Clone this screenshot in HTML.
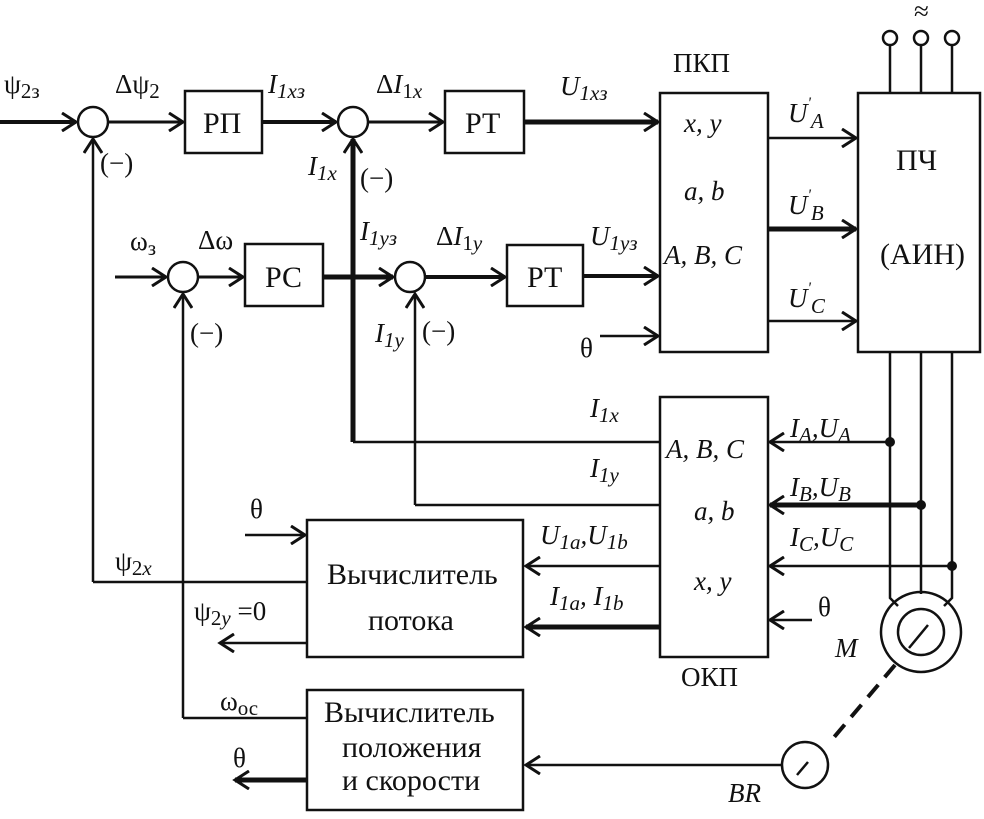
<!DOCTYPE html>
<html><head><meta charset="utf-8"><style>
html,body{margin:0;padding:0;background:#fff}
svg text{font-family:"Liberation Serif",serif;font-size:27px;fill:#111}
.i{font-style:italic}
.b{font-size:30px}
</style></head><body>
<svg width="984" height="814" viewBox="0 0 984 814" xmlns="http://www.w3.org/2000/svg">
<defs>
<marker id="a" markerWidth="20" markerHeight="20" refX="17" refY="10" orient="auto" markerUnits="userSpaceOnUse">
<path d="M3,1 L17,10 L3,19" fill="none" stroke="#111" stroke-width="3"/></marker>
</defs>
<g stroke="#111" fill="none" stroke-width="2.5">
<rect x="185" y="91" width="77" height="62"/>
<rect x="445" y="91" width="79" height="62"/>
<rect x="245" y="244" width="78" height="62"/>
<rect x="507" y="245" width="76" height="61"/>
<rect x="660" y="93" width="108" height="259"/>
<rect x="858" y="93" width="122" height="259"/>
<rect x="660" y="397" width="108" height="260"/>
<rect x="307" y="520" width="216" height="137"/>
<rect x="307" y="690" width="216" height="120"/>
<circle cx="93" cy="122" r="15"/><circle cx="353" cy="122" r="15"/>
<circle cx="183" cy="277" r="15"/><circle cx="410" cy="277" r="15"/>
<line x1="0" y1="122" x2="76" y2="122" stroke-width="4" marker-end="url(#a)"/>
<line x1="108" y1="122" x2="183" y2="122" stroke-width="3" marker-end="url(#a)"/>
<line x1="262" y1="122" x2="336" y2="122" stroke-width="4" marker-end="url(#a)"/>
<line x1="368" y1="122" x2="443" y2="122" stroke-width="3" marker-end="url(#a)"/>
<line x1="524" y1="122" x2="658" y2="122" stroke-width="5" marker-end="url(#a)"/>
<line x1="115" y1="277" x2="166" y2="277" stroke-width="3" marker-end="url(#a)"/>
<line x1="198" y1="277" x2="243" y2="277" stroke-width="3" marker-end="url(#a)"/>
<line x1="323" y1="277" x2="393" y2="277" stroke-width="5" marker-end="url(#a)"/>
<line x1="425" y1="277" x2="505" y2="277" stroke-width="4" marker-end="url(#a)"/>
<line x1="583" y1="276" x2="658" y2="276" stroke-width="4" marker-end="url(#a)"/>
<line x1="600" y1="336" x2="658" y2="336" stroke-width="2.5" marker-end="url(#a)"/>
<line x1="768" y1="138" x2="856" y2="138" marker-end="url(#a)"/>
<line x1="768" y1="229" x2="856" y2="229" stroke-width="5" marker-end="url(#a)"/>
<line x1="768" y1="321" x2="856" y2="321" marker-end="url(#a)"/>
<line x1="890" y1="45" x2="890" y2="93"/><line x1="921" y1="45" x2="921" y2="93"/><line x1="952" y1="45" x2="952" y2="93"/>
<circle cx="890" cy="38" r="7"/><circle cx="921" cy="38" r="7"/><circle cx="952" cy="38" r="7"/>
<path d="M890,352 V598 L898,606"/><path d="M921,352 V594"/><path d="M952,352 V598 L944,606"/>
<circle cx="921" cy="632" r="40"/><circle cx="921" cy="632" r="23"/>
<line x1="909" y1="648" x2="928" y2="625"/>
<line x1="895" y1="665" x2="830" y2="742" stroke-width="4" stroke-dasharray="16,10"/>
<circle cx="805" cy="765" r="23"/>
<line x1="808" y1="762" x2="797" y2="775"/>
<line x1="782" y1="765" x2="526" y2="765" marker-end="url(#a)"/>
<line x1="890" y1="442" x2="770" y2="442" marker-end="url(#a)"/>
<line x1="921" y1="505" x2="770" y2="505" stroke-width="5" marker-end="url(#a)"/>
<line x1="952" y1="566" x2="770" y2="566" marker-end="url(#a)"/>
<line x1="812" y1="620" x2="770" y2="620" marker-end="url(#a)"/>
<line x1="660" y1="566" x2="526" y2="566" marker-end="url(#a)"/>
<line x1="660" y1="627" x2="526" y2="627" stroke-width="5" marker-end="url(#a)"/>
<path d="M353,442 V139" stroke-width="5" marker-end="url(#a)"/>
<line x1="353" y1="442" x2="660" y2="442"/>
<path d="M415,505 V294" marker-end="url(#a)"/>
<line x1="415" y1="505" x2="660" y2="505"/>
<path d="M93,582 V139" marker-end="url(#a)"/>
<line x1="93" y1="582" x2="307" y2="582"/>
<path d="M183,718 V294" marker-end="url(#a)"/>
<line x1="183" y1="718" x2="307" y2="718"/>
<line x1="245" y1="535" x2="305" y2="535" marker-end="url(#a)"/>
<line x1="307" y1="643" x2="220" y2="643" marker-end="url(#a)"/>
<line x1="307" y1="780" x2="235" y2="780" stroke-width="5" marker-end="url(#a)"/>
</g>
<g fill="#111">
<circle cx="890" cy="442" r="5"/><circle cx="921" cy="505" r="5"/><circle cx="952" cy="566" r="5"/>
</g>
<text x="4" y="93">ψ<tspan font-size="21" dy="5">2з</tspan></text>
<text x="115" y="93">Δψ<tspan font-size="21" dy="5">2</tspan></text>
<text x="203" y="133" class="b">РП</text>
<text x="268" y="93" class="i">I<tspan font-size="21" dy="5">1</tspan><tspan font-size="21">xз</tspan></text>
<text x="376" y="93">Δ<tspan class="i">I</tspan><tspan font-size="21" dy="5">1</tspan><tspan font-size="21" class="i">x</tspan></text>
<text x="465" y="133" class="b">РТ</text>
<text x="560" y="95" class="i">U<tspan font-size="21" dy="5">1</tspan><tspan font-size="21">xз</tspan></text>
<text x="673" y="72">ПКП</text>
<text x="100" y="172">(−)</text>
<text x="308" y="175" class="i">I<tspan font-size="21" dy="5">1</tspan><tspan font-size="21">x</tspan></text>
<text x="360" y="187">(−)</text>
<text x="360" y="240" class="i">I<tspan font-size="21" dy="5">1</tspan><tspan font-size="21">yз</tspan></text>
<text x="436" y="245">Δ<tspan class="i">I</tspan><tspan font-size="21" dy="5">1</tspan><tspan font-size="21" class="i">y</tspan></text>
<text x="590" y="245" class="i">U<tspan font-size="21" dy="5">1</tspan><tspan font-size="21">yз</tspan></text>
<text x="130" y="250">ω<tspan font-size="21" dy="5">з</tspan></text>
<text x="198" y="249">Δω</text>
<text x="265" y="287" class="b">РС</text>
<text x="527" y="287" class="b">РТ</text>
<text x="190" y="342">(−)</text>
<text x="375" y="342" class="i">I<tspan font-size="21" dy="5">1</tspan><tspan font-size="21">y</tspan></text>
<text x="422" y="340">(−)</text>
<text x="580" y="357">θ</text>
<text x="684" y="132" class="i">x, y</text>
<text x="684" y="200" class="i">a, b</text>
<text x="664" y="264" class="i">A, B, C</text>
<text x="788" y="122" class="i">U<tspan font-size="16" dy="-14">'</tspan><tspan font-size="21" dy="20">A</tspan></text>
<text x="788" y="214" class="i">U<tspan font-size="16" dy="-14">'</tspan><tspan font-size="21" dy="20">B</tspan></text>
<text x="788" y="307" class="i">U<tspan font-size="16" dy="-14">'</tspan><tspan font-size="21" dy="20">C</tspan></text>
<text x="896" y="170" class="b">ПЧ</text>
<text x="880" y="264" class="b">(АИН)</text>
<text x="914" y="20" font-size="22">≈</text>
<text x="590" y="417" class="i">I<tspan font-size="21" dy="5">1</tspan><tspan font-size="21">x</tspan></text>
<text x="590" y="477" class="i">I<tspan font-size="21" dy="5">1</tspan><tspan font-size="21">y</tspan></text>
<text x="666" y="458" class="i">A, B, C</text>
<text x="694" y="520" class="i">a, b</text>
<text x="694" y="590" class="i">x, y</text>
<text x="681" y="686">ОКП</text>
<text x="790" y="437" class="i">I<tspan font-size="21" dy="5">A</tspan><tspan dy="-5">,U</tspan><tspan font-size="21" dy="5">A</tspan></text>
<text x="790" y="496" class="i">I<tspan font-size="21" dy="5">B</tspan><tspan dy="-5">,U</tspan><tspan font-size="21" dy="5">B</tspan></text>
<text x="790" y="546" class="i">I<tspan font-size="21" dy="5">C</tspan><tspan dy="-5">,U</tspan><tspan font-size="21" dy="5">C</tspan></text>
<text x="818" y="616">θ</text>
<text x="835" y="657" class="i">M</text>
<text x="728" y="802" class="i">BR</text>
<text x="540" y="544" class="i">U<tspan font-size="21" dy="5">1a</tspan><tspan dy="-5">,U</tspan><tspan font-size="21" dy="5">1b</tspan></text>
<text x="550" y="605" class="i">I<tspan font-size="21" dy="5">1a</tspan><tspan dy="-5">, I</tspan><tspan font-size="21" dy="5">1b</tspan></text>
<text x="250" y="518">θ</text>
<text x="115" y="570">ψ<tspan font-size="21" dy="5">2</tspan><tspan font-size="21" class="i">x</tspan></text>
<text x="194" y="620">ψ<tspan font-size="21" dy="5">2</tspan><tspan font-size="21" class="i">y</tspan><tspan dy="-5"> =0</tspan></text>
<text x="327" y="584" class="b">Вычислитель</text>
<text x="368" y="630" class="b">потока</text>
<text x="220" y="710">ω<tspan font-size="21" dy="5">ос</tspan></text>
<text x="324" y="722" class="b">Вычислитель</text>
<text x="342" y="757" class="b">положения</text>
<text x="342" y="790" class="b">и скорости</text>
<text x="233" y="767">θ</text>
</svg>
</body></html>
